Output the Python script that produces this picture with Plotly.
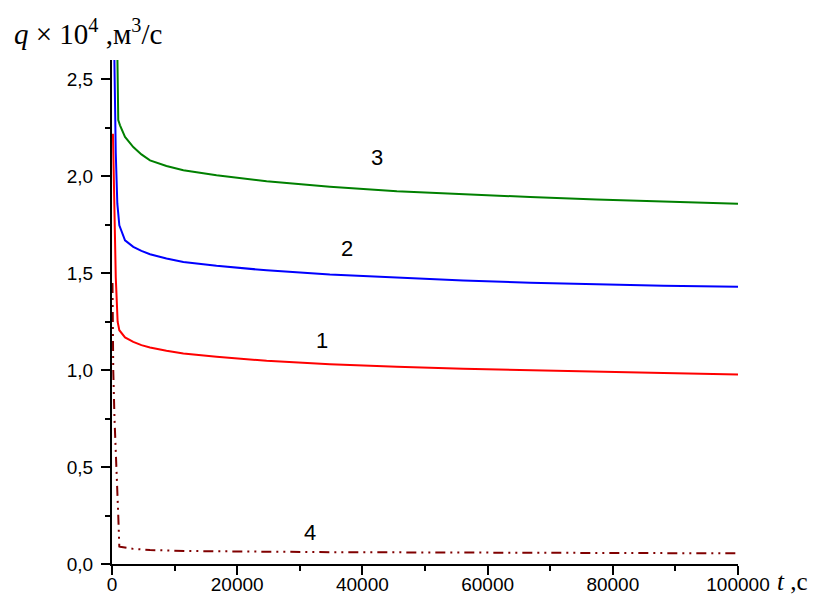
import plotly.graph_objects as go

# ---- data ----
t_red = [150, 400, 600, 900, 1170, 2080, 3400, 4700, 6070, 8700, 11400, 16700, 24700, 34800, 45500, 56100, 66800, 77400, 88100, 100000]
q_red = [2.22, 1.88, 1.48, 1.25, 1.206, 1.169, 1.146, 1.129, 1.117, 1.100, 1.086, 1.069, 1.048, 1.031, 1.017, 1.007, 0.999, 0.991, 0.985, 0.978]

t_blue = [200, 450, 600, 850, 1170, 2080, 3400, 4700, 6070, 8700, 11400, 16700, 24700, 34800, 45500, 56100, 66800, 77400, 88100, 100000]
q_blue = [3.0, 2.40, 2.12, 1.86, 1.747, 1.670, 1.636, 1.615, 1.598, 1.576, 1.558, 1.538, 1.515, 1.493, 1.476, 1.463, 1.451, 1.442, 1.435, 1.430]

t_green = [700, 1000, 1280, 2080, 3400, 4700, 6070, 8700, 11400, 16700, 24700, 34800, 45500, 56100, 66800, 77400, 88100, 100000]
q_green = [3.0, 2.29, 2.263, 2.203, 2.151, 2.113, 2.082, 2.053, 2.031, 2.005, 1.974, 1.946, 1.923, 1.907, 1.893, 1.880, 1.870, 1.859]

t_4 = [80, 200, 400, 750, 1000, 1170, 1280, 3400, 6070, 12000, 19400, 38000, 46000, 70000, 92800, 100000]
q_4 = [1.45, 1.0, 0.75, 0.5, 0.25, 0.09, 0.089, 0.078, 0.072, 0.067, 0.064, 0.060, 0.060, 0.057, 0.055, 0.055]

curve_labels = ["1", "2", "3", "4"]
label_t = [33500, 37500, 42300, 31600]
label_q = [1.155, 1.629, 2.098, 0.160]

x_tickvals = [0, 20000, 40000, 60000, 80000, 100000]
x_ticktext = ["0", "20000", "40000", "60000", "80000", "100000"]
y_tickvals = [0.0, 0.5, 1.0, 1.5, 2.0, 2.5]
y_ticktext = ["0,0", "0,5", "1,0", "1,5", "2,0", "2,5"]

# ---- figure ----
fig = go.Figure()
fig.add_trace(go.Scatter(x=t_red, y=q_red, mode="lines", line=dict(color="#FF0000", width=2)))
fig.add_trace(go.Scatter(x=t_blue, y=q_blue, mode="lines", line=dict(color="#0000FF", width=2)))
fig.add_trace(go.Scatter(x=t_green, y=q_green, mode="lines", line=dict(color="#008000", width=2)))
fig.add_trace(go.Scatter(x=t_4, y=q_4, mode="lines",
                         line=dict(color="#800000", width=2, dash="10px,5px,2px,5px,2px,5px")))

for lab, tx, qy in zip(curve_labels, label_t, label_q):
    fig.add_annotation(x=tx, y=qy, text=lab, showarrow=False,
                       font=dict(family="Liberation Sans, Arial", size=22, color="black"))

fig.add_annotation(xref="paper", yref="paper", x=-0.160, y=1.056, xanchor="left", yanchor="middle",
                   text="<i>q</i> × 10<sup>4</sup> ,м<sup>3</sup>/с", showarrow=False,
                   font=dict(family="Liberation Serif, Times New Roman", size=29, color="black"))
fig.add_annotation(xref="paper", yref="paper", x=1.059, y=-0.034, xanchor="left", yanchor="middle",
                   text="<i>t</i> ,с", showarrow=False,
                   font=dict(family="Liberation Serif, Times New Roman", size=25, color="black"))

axis_font = dict(family="Liberation Sans, Arial", size=19, color="black")
fig.update_xaxes(range=[0, 100000], tickvals=x_tickvals, ticktext=x_ticktext, automargin=False,
                 showgrid=False, zeroline=False, showline=True, linecolor="black", linewidth=2,
                 ticks="outside", ticklen=9, tickwidth=2, tickcolor="black", tickfont=axis_font,
                 ticklabelstandoff=-7,
                 minor=dict(ticks="outside", ticklen=5, tickwidth=2, tickcolor="black", dtick=10000, showgrid=False))
fig.update_yaxes(range=[0, 2.6], tickvals=y_tickvals, ticktext=y_ticktext, automargin=False,
                 showgrid=False, zeroline=False, showline=True, linecolor="black", linewidth=2,
                 ticks="outside", ticklen=9, tickwidth=2, tickcolor="black", tickfont=axis_font,
                 ticklabelstandoff=4,
                 minor=dict(ticks="outside", ticklen=5, tickwidth=2, tickcolor="black", dtick=0.25, showgrid=False))

fig.update_layout(width=825, height=597, showlegend=False,
                  plot_bgcolor="white", paper_bgcolor="white",
                  margin=dict(l=112, r=87, t=60, b=33))

fig.write_html("out.html")
